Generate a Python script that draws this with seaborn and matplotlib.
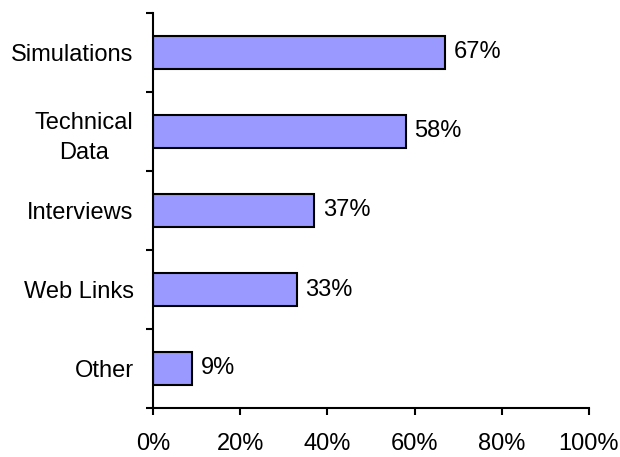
import matplotlib
matplotlib.use("Agg")
import matplotlib.pyplot as plt
import seaborn as sns
import numpy as np
import pandas as pd

categories = ["Simulations", "Technical\nData", "Interviews", "Web Links", "Other"]
values = [67, 58, 37, 33, 9]
x_ticks = [0, 20, 40, 60, 80, 100]
x_tick_labels = ["0%", "20%", "40%", "60%", "80%", "100%"]

sns.set_style("ticks")
plt.rcParams["font.family"] = ["Liberation Sans", "DejaVu Sans"]
plt.rcParams["text.color"] = "black"
plt.rcParams["xtick.color"] = "black"
plt.rcParams["ytick.color"] = "black"

df = pd.DataFrame({"category": categories, "value": values})

fig = plt.figure(figsize=(6.2, 4.57), dpi=100)
ax = fig.add_axes([153 / 620, 49 / 457, 436 / 620, 395 / 457])

sns.barplot(data=df, x="value", y="category", orient="h", ax=ax,
            color="#9999FF", saturation=1, width=0.41,
            edgecolor="black", linewidth=1.5)

ax.set_xlim(0, 100)
ax.set_ylim(len(categories) - 0.5, -0.5)

# value labels at the bar ends
for cont in ax.containers:
    ax.bar_label(cont, labels=[f"{v}%" for v in values], padding=6,
                 fontsize=17, color="black")

# x axis
ax.set_xticks(x_ticks)
ax.set_xticklabels(x_tick_labels, fontsize=17, color="black")
ax.tick_params(axis="x", direction="out", length=5, width=1.5, pad=13,
               colors="black", labelcolor="black")

# y axis: tick marks between categories, labels centred on bars
ax.set_yticks(np.arange(len(categories) + 1) - 0.5)
ax.set_yticklabels([])
ax.set_yticks(np.arange(len(categories)), minor=True)
ax.set_yticklabels(categories, minor=True, fontsize=17, color="black",
                   multialignment="center", linespacing=1.5)
ax.tick_params(axis="y", which="major", direction="out", length=5,
               width=1.5, colors="black")
ax.tick_params(axis="y", which="minor", length=0, pad=14,
               labelcolor="black")

ax.set_xlabel("")
ax.set_ylabel("")

for side in ["top", "right"]:
    ax.spines[side].set_visible(False)
for side in ["left", "bottom"]:
    ax.spines[side].set_linewidth(1.5)
    ax.spines[side].set_color("black")

fig.savefig("out.png", dpi=100)
